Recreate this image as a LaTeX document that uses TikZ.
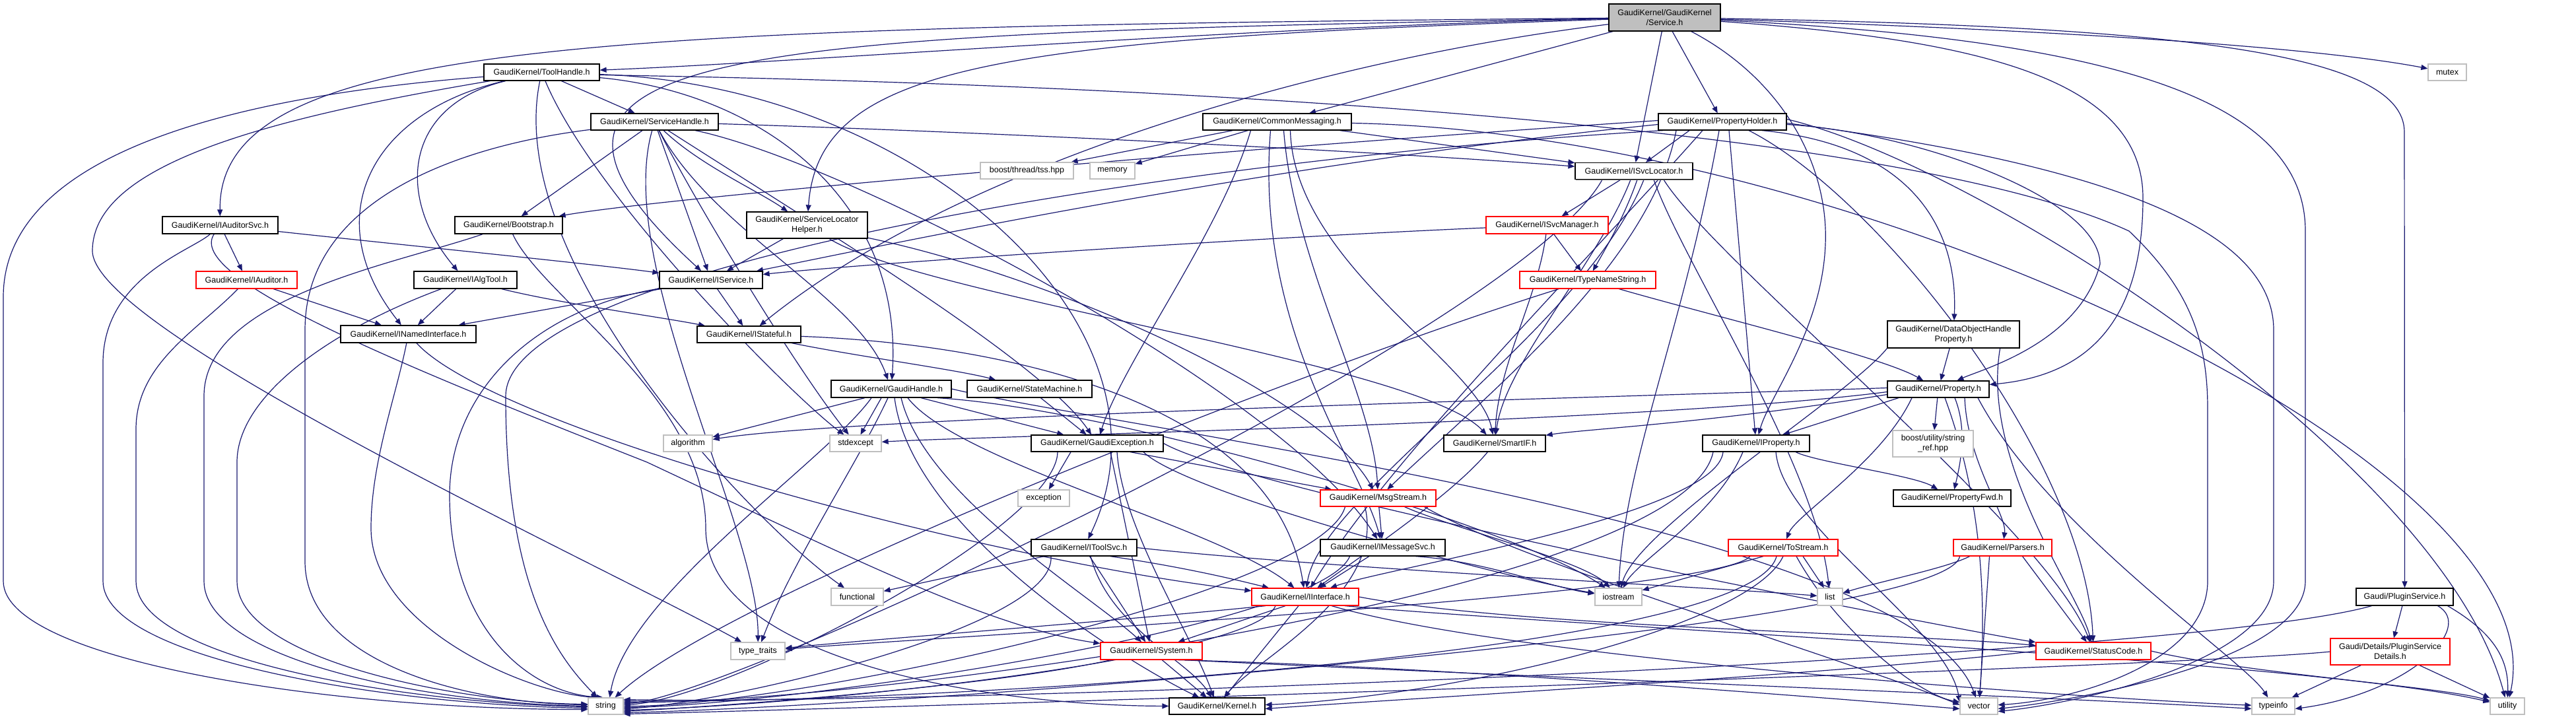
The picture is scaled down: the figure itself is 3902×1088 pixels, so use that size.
\documentclass[tikz,border=0pt]{standalone}
\usepackage{fontspec}
\setmainfont{Liberation Sans}
\usetikzlibrary{arrows.meta,shadows}
\definecolor{eblue}{HTML}{191970}
\definecolor{rootgray}{HTML}{BFBFBF}
\definecolor{extgray}{HTML}{BFBFBF}
\pgfdeclarelayer{edges}
\pgfsetlayers{edges,main}
\begin{document}
\begin{tikzpicture}[x=1pt,y=-1pt,
  bx/.style={rectangle,draw=black,line width=1.2pt,fill=white,inner xsep=3pt,inner ysep=2pt,
    align=center,font=\fontsize{12.5}{15}\selectfont,
    drop shadow={shadow xshift=1.3pt,shadow yshift=-1.3pt,fill=black!55,opacity=1}},
  ext/.style={bx,draw=extgray,drop shadow={shadow xshift=1.3pt,shadow yshift=-1.3pt,fill=black!15,opacity=1}},
  redbx/.style={bx,draw=red,drop shadow={shadow xshift=1.3pt,shadow yshift=-1.3pt,fill=red!35,opacity=1}},
  rootbx/.style={bx,fill=rootgray},
  e/.style={draw=eblue,line width=1.2pt,-{Triangle[length=10pt,width=8pt]}}]
\useasboundingbox (0,0) rectangle (3902,1088);
% ---------------- nodes ----------------
\node[rootbx,minimum width=169,minimum height=41] (s) at (2521.5,26.5) {GaudiKernel/GaudiKernel\\/Service.h};
\node[bx,minimum width=175,minimum height=25] (th) at (820.5,109.5) {GaudiKernel/ToolHandle.h};
\node[bx,minimum width=193,minimum height=25] (sh) at (991.5,184.5) {GaudiKernel/ServiceHandle.h};
\node[bx,minimum width=225,minimum height=25] (cm) at (1934.5,184.5) {GaudiKernel/CommonMessaging.h};
\node[bx,minimum width=194,minimum height=25] (ph) at (2609,184.5) {GaudiKernel/PropertyHolder.h};
\node[ext,minimum width=58,minimum height=25] (mutex) at (3707,109.5) {mutex};
\node[bx,minimum width=175,minimum height=26] (ias) at (333.5,341) {GaudiKernel/IAuditorSvc.h};
\node[bx,minimum width=163,minimum height=26] (bs) at (770.5,341) {GaudiKernel/Bootstrap.h};
\node[bx,minimum width=183,minimum height=40] (slh) at (1222.5,341) {GaudiKernel/ServiceLocator\\Helper.h};
\node[ext,minimum width=141,minimum height=25] (tss) at (1555.5,258.5) {boost/thread/tss.hpp};
\node[ext,minimum width=68,minimum height=25] (mem) at (1685,258.5) {memory};
\node[bx,minimum width=178,minimum height=25] (isl) at (2475,259) {GaudiKernel/ISvcLocator.h};
\node[redbx,minimum width=185,minimum height=26] (ism) at (2343.5,341) {GaudiKernel/ISvcManager.h};
\node[redbx,minimum width=153,minimum height=26] (iaud) at (373.5,424) {GaudiKernel/IAuditor.h};
\node[bx,minimum width=156,minimum height=26] (iat) at (705,424) {GaudiKernel/IAlgTool.h};
\node[bx,minimum width=205,minimum height=26] (ini) at (618.5,506) {GaudiKernel/INamedInterface.h};
\node[bx,minimum width=156,minimum height=26] (is) at (1077,424) {GaudiKernel/IService.h};
\node[bx,minimum width=157,minimum height=25] (istf) at (1134.5,506.5) {GaudiKernel/IStateful.h};
\node[redbx,minimum width=206,minimum height=26] (tns) at (2405,424) {GaudiKernel/TypeNameString.h};
\node[bx,minimum width=200,minimum height=41] (dohp) at (2959,506.5) {GaudiKernel/DataObjectHandle\\Property.h};
\node[bx,minimum width=182,minimum height=26] (gh) at (1350,589) {GaudiKernel/GaudiHandle.h};
\node[bx,minimum width=189,minimum height=26] (sm) at (1559.5,589) {GaudiKernel/StateMachine.h};
\node[bx,minimum width=154,minimum height=25] (prop) at (2936,589.5) {GaudiKernel/Property.h};
\node[ext,minimum width=74,minimum height=25] (alg) at (1042,671.5) {algorithm};
\node[ext,minimum width=78,minimum height=25] (stdx) at (1296,671.5) {stdexcept};
\node[bx,minimum width=200,minimum height=25] (ge) at (1662,671.5) {GaudiKernel/GaudiException.h};
\node[bx,minimum width=154,minimum height=25] (sif) at (2264,671.5) {GaudiKernel/SmartIF.h};
\node[bx,minimum width=162,minimum height=25] (ip) at (2660,671.5) {GaudiKernel/IProperty.h};
\node[ext,minimum width=122,minimum height=40] (sref) at (2928,672) {boost/utility/string\\\_ref.hpp};
\node[bx,minimum width=178,minimum height=25] (pf) at (2957,754.5) {GaudiKernel/PropertyFwd.h};
\node[ext,minimum width=78,minimum height=25] (exc) at (1581,754.5) {exception};
\node[redbx,minimum width=175,minimum height=25] (ms) at (2087.5,754.5) {GaudiKernel/MsgStream.h};
\node[bx,minimum width=160,minimum height=25] (its) at (1642,829.5) {GaudiKernel/IToolSvc.h};
\node[bx,minimum width=189,minimum height=25] (ims) at (2094.5,829.5) {GaudiKernel/IMessageSvc.h};
\node[redbx,minimum width=166,minimum height=25] (ts) at (2701,829.5) {GaudiKernel/ToStream.h};
\node[redbx,minimum width=149,minimum height=25] (pars) at (3033.5,829.5) {GaudiKernel/Parsers.h};
\node[ext,minimum width=79,minimum height=26] (func) at (1298.5,904) {functional};
\node[redbx,minimum width=162,minimum height=26] (ii) at (1977,904) {GaudiKernel/IInterface.h};
\node[ext,minimum width=71,minimum height=26] (iost) at (2451.5,904) {iostream};
\node[ext,minimum width=38,minimum height=26] (list) at (2772,904) {list};
\node[bx,minimum width=147,minimum height=26] (ps) at (3642.5,904) {Gaudi/PluginService.h};
\node[ext,minimum width=82,minimum height=26] (tt) at (1148,986) {type\_traits};
\node[redbx,minimum width=154,minimum height=26] (sys) at (1744,986) {GaudiKernel/System.h};
\node[redbx,minimum width=174,minimum height=26] (sc) at (3171,986) {GaudiKernel/StatusCode.h};
\node[redbx,minimum width=181,minimum height=40] (psd) at (3620.5,987) {Gaudi/Details/PluginService\\Details.h};
\node[ext,minimum width=53,minimum height=25] (string) at (917.5,1069.5) {string};
\node[bx,minimum width=145,minimum height=25] (kernel) at (1843.5,1069.5) {GaudiKernel/Kernel.h};
\node[ext,minimum width=57,minimum height=25] (vector) at (2997.5,1069.5) {vector};
\node[ext,minimum width=65,minimum height=25] (typeinfo) at (3443.5,1069.5) {typeinfo};
\node[ext,minimum width=52,minimum height=25] (utility) at (3798,1069.5) {utility};
% ---------------- edges ----------------
\begin{pgfonlayer}{edges}
% Service.h
\draw[e] (s) .. controls (1900,40) and (1200,95) .. (th);
\draw[e] (s) .. controls (900,42) and (330,60) .. (ias);
\draw[e] (s) .. controls (1100,52) and (690,70) .. (is);
\draw[e] (s) .. controls (1500,60) and (1240,100) .. (slh);
\draw[e] (s) -- (cm);
\draw[e] (s) -- (isl);
\draw[e] (s) -- (ph);
\draw[e] (s) .. controls (3100,45) and (3500,70) .. (mutex);
\draw[e] (s) .. controls (3300,40) and (3642,80) .. (3642,200) -- (ps);
\draw[e] (s) .. controls (3000,60) and (3246,120) .. (3246,300) .. controls (3246,500) and (3150,570) .. (prop);
\draw[e] (s) .. controls (3200,60) and (3492,150) .. (3492,350) -- (3492,880) .. controls (3492,1000) and (3150,1060) .. ([yshift=-4pt]vector.east);
\draw[e] (s) .. controls (2700,120) and (2770,250) .. (2765,370) .. controls (2760,500) and (2680,600) .. (ip);
\draw[e] (s) .. controls (2000,90) and (1450,250) .. (istf);
% ToolHandle.h
\draw[e] (th) -- (sh);
\draw[e] (th) .. controls (610,160) and (600,300) .. (iat);
\draw[e] (th) .. controls (560,170) and (480,330) .. (ini);
\draw[e] (th) .. controls (1150,140) and (1370,300) .. (gh);
\draw[e] (th) .. controls (1400,130) and (1800,500) .. (its);
\draw[e] (th) .. controls (900,300) and (1200,600) .. (stdx);
\draw[e] (th) .. controls (760,400) and (1150,800) .. (func);
\draw[e] (th) .. controls (400,180) and (140,250) .. (140,380) .. controls (140,500) and (900,850) .. (tt);
\draw[e] (th) .. controls (300,150) and (5,250) .. (5,450) -- (5,880) .. controls (5,1000) and (500,1075) .. ([yshift=-5pt]string.west);
\draw[e] ([yshift=-4pt]th.east) .. controls (1900,130) and (2900,200) .. (3225,350) .. controls (3320,440) and (3344,520) .. (3344,620) -- (3344,880) .. controls (3344,1000) and (3150,1060) .. (vector);
% ServiceHandle.h
\draw[e] (sh) -- (bs);
\draw[e] (sh) .. controls (1060,250) and (1150,290) .. (slh);
\draw[e] (sh) .. controls (1500,200) and (2100,230) .. (isl);
\draw[e] (sh) .. controls (1080,350) and (1300,450) .. (gh);
\draw[e] (sh) -- (is);
\draw[e] (sh) .. controls (1300,250) and (1950,600) .. (ims);
\draw[e] (sh) .. controls (1250,350) and (1580,550) .. (ge);
\draw[e] (sh) .. controls (1050,300) and (1200,550) .. (stdx);
\draw[e] (sh) .. controls (930,400) and (1150,800) .. (tt);
\draw[e] (sh) .. controls (700,220) and (462,300) .. (462,500) -- (462,850) .. controls (462,1000) and (700,1065) .. ([yshift=2pt]string.west);
% CommonMessaging.h
\draw[e] (cm) -- (tss);
\draw[e] (cm) -- (mem);
\draw[e] (cm) -- (isl);
\draw[e] ([xshift=20pt]cm.south) .. controls (1960,400) and (2240,550) .. (sif);
\draw[e] ([xshift=-40pt]cm.south) .. controls (1850,350) and (1700,550) .. (ge);
\draw[e] ([xshift=10pt]cm.south) .. controls (1960,400) and (2080,600) .. (ms);
\draw[e] ([xshift=-10pt]cm.south) .. controls (1900,500) and (2060,700) .. (ims);
\draw[e] (cm) .. controls (2800,200) and (3880,700) .. (utility);
% PropertyHolder.h
\draw[e] ([xshift=-50pt]ph.south) -- (isl);
\draw[e] ([yshift=2pt]ph.west) .. controls (1800,230) and (1000,300) .. (bs);
\draw[e] ([yshift=-4pt]ph.west) .. controls (1900,250) and (1300,380) .. (is);
\draw[e] ([xshift=60pt]ph.south) .. controls (2900,220) and (2966,350) .. (dohp);
\draw[e] ([yshift=-4pt]ph.east) .. controls (2900,200) and (3181,300) .. (3181,400) .. controls (3150,520) and (3000,560) .. (prop);
\draw[e] ([xshift=10pt]ph.south) -- (ip);
\draw[e] ([xshift=-5pt]ph.south) .. controls (2550,500) and (2460,700) .. (iost);
\draw[e] ([xshift=40pt]ph.south) .. controls (2850,300) and (3160,700) .. (sc);
\draw[e] ([xshift=-90pt]ph.south) .. controls (1800,240) and (766,400) .. (766,600) .. controls (766,900) and (850,1000) .. (string);
\draw[e] ([yshift=-2pt]ph.east) .. controls (3200,250) and (3444,350) .. (3444,500) -- (3444,880) .. controls (3444,1000) and (3150,1065) .. ([yshift=-8pt]vector.east);
\draw[e] ([yshift=4pt]ph.east) .. controls (3000,250) and (3700,700) .. (utility);
\draw[e] ([xshift=-70pt]ph.south) .. controls (2500,400) and (2250,600) .. (ms);
\draw[e] ([xshift=-30pt]ph.south) .. controls (2400,400) and (2100,700) .. (ii);
% IAuditorSvc.h
\draw[e] (ias) -- (iaud);
\draw[e] (ias) .. controls (600,370) and (900,400) .. (is);
\draw[e] (ias) .. controls (280,420) and (600,550) .. (980,700) .. controls (1300,850) and (1500,950) .. (sys);
\draw[e] (ias) .. controls (290,380) and (156,420) .. (156,550) -- (156,880) .. controls (156,1000) and (600,1068) .. ([yshift=-3pt]string.west);
% Bootstrap.h
\draw[e] (bs) .. controls (600,400) and (309,450) .. (309,600) -- (309,880) .. controls (309,1000) and (650,1065) .. ([yshift=0pt]string.west);
\draw[e] (bs) .. controls (820,450) and (1069,600) .. (1069,800) .. controls (1069,1000) and (1500,1069) .. (kernel);
% ServiceLocatorHelper.h
\draw[e] (slh) -- (is);
\draw[e] (slh) .. controls (1400,450) and (2150,550) .. (sif);
\draw[e] (slh) .. controls (1600,420) and (2000,600) .. (ms);
% ISvcLocator.h
\draw[e] ([xshift=-20pt]isl.south) -- (ism);
\draw[e] ([xshift=5pt]isl.south) .. controls (2460,330) and (2430,380) .. (tns);
\draw[e] ([xshift=-5pt]isl.south) .. controls (2420,400) and (2280,550) .. (sif);
\draw[e] ([xshift=15pt]isl.south) .. controls (2400,500) and (2000,750) .. (ii);
\draw[e] ([xshift=45pt]isl.south) .. controls (2600,400) and (3100,800) .. (sc);
\draw[e] ([xshift=30pt]isl.south) .. controls (2550,400) and (2750,700) .. (list);
\draw[e] ([xshift=-48pt]isl.south) .. controls (2300,500) and (1100,1060) .. ([yshift=4pt]string.east);
% ISvcManager.h
\draw[e] (ism) -- (tns);
\draw[e] (ism) .. controls (2330,450) and (2270,550) .. (sif);
\draw[e] (ism) .. controls (1900,360) and (1300,400) .. (is);
% TypeNameString.h
\draw[e] (tns) .. controls (2600,480) and (2850,540) .. (prop);
\draw[e] (tns) .. controls (2000,550) and (1100,900) .. (string);
% IAuditor.h, IAlgTool.h, INamedInterface.h, IService.h, IStateful.h
\draw[e] (iaud) -- (ini);
\draw[e] (iaud) .. controls (300,500) and (206,550) .. (206,650) -- (206,880) .. controls (206,1000) and (620,1065) .. ([yshift=-1pt]string.west);
\draw[e] (iat) -- (ini);
\draw[e] (iat) .. controls (850,460) and (1000,480) .. (istf);
\draw[e] (iat) .. controls (500,500) and (359,600) .. (359,700) -- (359,880) .. controls (359,1000) and (700,1065) .. ([yshift=3pt]string.west);
\draw[e] (ini) .. controls (600,600) and (562,700) .. (562,800) .. controls (562,950) and (800,1050) .. ([xshift=-12pt]string.north);
\draw[e] (ini) .. controls (750,650) and (1500,850) .. (ii);
\draw[e] (is) -- (ini);
\draw[e] (is) -- (istf);
\draw[e] (is) .. controls (800,470) and (681,600) .. (681,750) .. controls (681,950) and (800,1050) .. ([xshift=-4pt]string.north);
\draw[e] (istf) .. controls (1300,540) and (1450,560) .. (sm);
\draw[e] (istf) .. controls (1500,520) and (1930,600) .. (ii);
% GaudiHandle.h
\draw[e] ([xshift=-40pt]gh.south) -- (alg);
\draw[e] ([xshift=-15pt]gh.south) -- (stdx);
\draw[e] ([xshift=45pt]gh.south) -- (ge);
\draw[e] ([xshift=15pt]gh.south) .. controls (1400,750) and (1650,900) .. (sys);
\draw[e] ([xshift=25pt]gh.south) .. controls (1450,700) and (1850,800) .. (ii);
\draw[e] ([xshift=-5pt]gh.south) .. controls (1300,700) and (1200,850) .. (tt);
\draw[e] ([xshift=-30pt]gh.south) .. controls (1250,700) and (950,900) .. ([xshift=6pt]string.north);
\draw[e] (gh.east) .. controls (1700,650) and (2900,800) .. (vector);
\draw[e] ([xshift=5pt]gh.south) .. controls (1380,800) and (1700,1000) .. (kernel);
\draw[e] ([xshift=70pt]gh.south) .. controls (1700,620) and (2300,800) .. (iost);
\draw[e] (sm) -- (ge);
% GaudiException.h
\draw[e] ([xshift=-40pt]ge.south) -- (exc);
\draw[e] ([xshift=50pt]ge.south) -- (ms);
\draw[e] ([xshift=20pt]ge.south) -- (sys);
\draw[e] (ge.east) .. controls (1900,750) and (3000,960) .. (sc);
\draw[e] ([xshift=-60pt]ge.south) .. controls (1600,800) and (1100,1060) .. ([yshift=2pt]string.east);
\draw[e] ([xshift=70pt]ge.south) .. controls (1800,750) and (2300,880) .. (iost);
\draw[e] ([xshift=30pt]ge.south) .. controls (1700,800) and (1800,950) .. (kernel);
% MsgStream.h, IMessageSvc.h, IToolSvc.h
\draw[e] (ms) -- (ims);
\draw[e] ([xshift=40pt]ms.south) .. controls (2200,800) and (2400,850) .. (iost);
\draw[e] ([xshift=-20pt]ms.south) .. controls (2100,900) and (1900,1000) .. (kernel);
\draw[e] ([xshift=-50pt]ms.south) .. controls (2000,900) and (1200,1070) .. ([yshift=0pt]string.east);
\draw[e] ([xshift=70pt]ms.south) .. controls (2300,850) and (2800,1000) .. ([yshift=2pt]vector.west);
\draw[e] (ims) -- (ii);
\draw[e] ([xshift=50pt]ims.south) .. controls (2250,850) and (2350,890) .. (iost);
\draw[e] ([xshift=-50pt]ims.south) .. controls (2000,950) and (1200,1068) .. ([yshift=-2pt]string.east);
\draw[e] (its) -- (func);
\draw[e] ([xshift=40pt]its.south) .. controls (1800,860) and (1880,880) .. (ii);
\draw[e] (its) -- (sys);
\draw[e] (its.east) .. controls (2000,860) and (2600,890) .. (list);
\draw[e] ([xshift=-50pt]its.south) .. controls (1600,950) and (1100,1065) .. ([yshift=-4pt]string.east);
\draw[e] ([xshift=10pt]its.south) .. controls (1680,950) and (1800,1000) .. (kernel);
% IInterface.h, System.h, SmartIF.h
\draw[e] ([xshift=-30pt]ii.south) -- (sys);
\draw[e] ([xshift=-10pt]ii.south) -- (kernel);
\draw[e] (ii.east) .. controls (2300,950) and (2900,960) .. (sc);
\draw[e] ([xshift=-60pt]ii.south) .. controls (1700,940) and (1300,970) .. (tt);
\draw[e] ([xshift=-45pt]ii.south) .. controls (1900,1000) and (1200,1070) .. ([yshift=-6pt]string.east);
\draw[e] ([xshift=40pt]ii.south) .. controls (2300,1000) and (3200,1060) .. (typeinfo);
\draw[e] ([xshift=60pt]ii.south) .. controls (2400,950) and (3500,1000) .. (utility);
\draw[e] (sys) -- (kernel);
\draw[e] (sys) .. controls (1500,1040) and (1100,1069) .. ([yshift=-8pt]string.east);
\draw[e] ([xshift=50pt]sys.south) .. controls (2200,1020) and (3200,1060) .. ([yshift=-4pt]typeinfo.west);
\draw[e] ([xshift=40pt]sys.south) .. controls (2200,1010) and (2800,1060) .. ([yshift=-4pt]vector.west);
\draw[e] (sif) .. controls (2200,750) and (2050,850) .. (ii);
% Property.h
\draw[e] ([xshift=-40pt]prop.south) .. controls (2850,700) and (2720,780) .. (ts);
\draw[e] ([xshift=40pt]prop.south) .. controls (2980,700) and (3040,780) .. (pars);
\draw[e] ([xshift=-60pt]prop.south) -- (ip);
\draw[e] ([xshift=25pt]prop.south) .. controls (2980,650) and (2970,700) .. (pf);
\draw[e] (prop) -- (sref);
\draw[e] ([yshift=-4pt]prop.west) .. controls (2500,640) and (1500,660) .. (stdx);
\draw[e] ([yshift=2pt]prop.west) .. controls (2500,600) and (1300,630) .. (alg);
\draw[e] ([yshift=-8pt]prop.west) .. controls (2600,640) and (2400,650) .. (sif);
\draw[e] ([xshift=60pt]prop.south) .. controls (3100,800) and (3400,1000) .. (typeinfo);
\draw[e] ([xshift=10pt]prop.south) .. controls (3000,750) and (3010,900) .. (vector);
% IProperty.h, DataObjectHandleProperty.h
\draw[e] ([xshift=-50pt]ip.south) .. controls (2600,780) and (2100,860) .. (ii);
\draw[e] ([xshift=60pt]ip.south) .. controls (2750,700) and (2900,720) .. (pf);
\draw[e] ([xshift=-20pt]ip.south) .. controls (2600,780) and (2480,850) .. (iost);
\draw[e] ([xshift=30pt]ip.south) .. controls (2700,800) and (2950,950) .. ([yshift=6pt]vector.west);
\draw[e] ([xshift=-65pt]ip.south) .. controls (2550,900) and (1300,1068) .. ([yshift=6pt]string.east);
\draw[e] (dohp) -- (prop);
\draw[e] ([xshift=-30pt]dohp.south east) .. controls (3000,700) and (3150,900) .. (sc);
\draw[e] (dohp.south west) .. controls (2800,600) and (2480,800) .. (iost);
% ToStream.h, Parsers.h, StatusCode.h
\draw[e] ([xshift=-30pt]ts.south) -- (iost);
\draw[e] ([xshift=30pt]ts.south) -- (list);
\draw[e] ([xshift=-10pt]ts.south) .. controls (2650,1000) and (1300,1068) .. ([yshift=8pt]string.east);
\draw[e] ([xshift=20pt]ts.south) .. controls (2780,950) and (2900,1050) .. (vector);
\draw[e] ([xshift=-50pt]ts.south) .. controls (2600,900) and (1500,960) .. (tt);
\draw[e] ([xshift=0pt]ts.south) .. controls (2650,950) and (2200,1055) .. ([yshift=2pt]kernel.east);
\draw[e] ([xshift=30pt]pars.south) -- (sc);
\draw[e] ([xshift=-50pt]pars.south) .. controls (2950,860) and (2850,880) .. (list);
\draw[e] ([xshift=-20pt]pars.south) -- (vector);
\draw[e] ([xshift=-65pt]pars.south) .. controls (2950,950) and (1400,1068) .. ([yshift=-10pt]string.east);
\draw[e] (sc.west) .. controls (2800,1020) and (2100,1060) .. ([yshift=-4pt]kernel.east);
\draw[e] (sc.east) .. controls (3400,1020) and (3700,1040) .. (utility);
% PluginService
\draw[e] (ps) -- (psd);
\draw[e] ([xshift=-50pt]ps.south) .. controls (3300,1000) and (1400,1068) .. ([yshift=10pt]string.east);
\draw[e] ([xshift=50pt]ps.south) .. controls (3750,950) and (3650,1050) .. ([yshift=-4pt]typeinfo.east);
\draw[e] ([xshift=65pt]ps.south) .. controls (3780,960) and (3800,1000) .. (utility);
\draw[e] (psd) -- (typeinfo);
\draw[e] (psd) -- (utility);
\draw[e] (psd.west) .. controls (3300,1010) and (1500,1068) .. ([yshift=-12pt]string.east);
\end{pgfonlayer}
\end{tikzpicture}
\end{document}
